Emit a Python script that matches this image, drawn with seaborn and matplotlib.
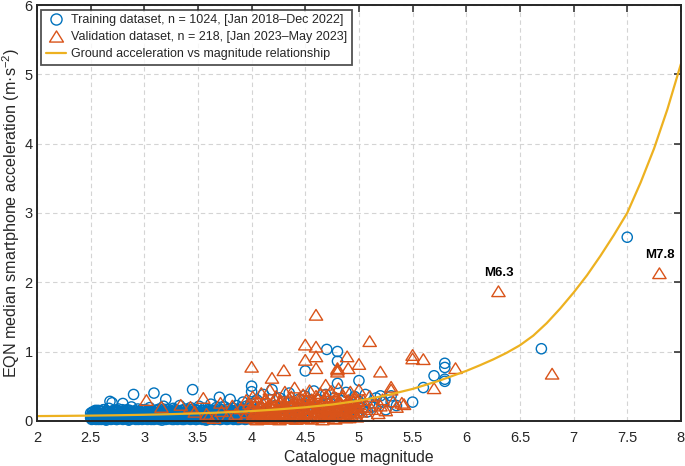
"""
EQN smartphone acceleration vs catalogue magnitude.
Saves out.png (685x466).
"""

import matplotlib
matplotlib.use("Agg")
import matplotlib.pyplot as plt
from matplotlib.lines import Line2D
from matplotlib.path import Path
import seaborn as sns

BLUE   = "#0072BD"
ORANGE = "#D95319"
YELLOW = "#EDB120"
INK    = "#262626"

# ---------------------------------------------------------------------------
# Data
# ---------------------------------------------------------------------------
train_mag = [
    2.50, 2.50, 2.51, 2.51, 2.52, 2.52, 2.53, 2.53, 2.54, 2.54,
    2.55, 2.55, 2.56, 2.56, 2.57, 2.57, 2.58, 2.58, 2.59, 2.59,
    2.60, 2.60, 2.61, 2.61, 2.62, 2.62, 2.63, 2.63, 2.64, 2.64,
    2.65, 2.65, 2.66, 2.66, 2.67, 2.67, 2.68, 2.68, 2.69, 2.69,
    2.70, 2.70, 2.71, 2.71, 2.72, 2.72, 2.73, 2.73, 2.74, 2.74,
    2.75, 2.75, 2.76, 2.76, 2.77, 2.77, 2.78, 2.78, 2.79, 2.79,
    2.80, 2.80, 2.81, 2.81, 2.82, 2.82, 2.83, 2.83, 2.84, 2.84,
    2.85, 2.85, 2.86, 2.86, 2.87, 2.87, 2.88, 2.88, 2.89, 2.89,
    2.90, 2.90, 2.91, 2.91, 2.92, 2.92, 2.93, 2.93, 2.94, 2.94,
    2.95, 2.95, 2.96, 2.96, 2.97, 2.97, 2.98, 2.98, 2.99, 2.99,
    3.00, 3.00, 3.01, 3.01, 3.02, 3.02, 3.03, 3.03, 3.04, 3.04,
    3.05, 3.05, 3.06, 3.06, 3.07, 3.07, 3.08, 3.08, 3.09, 3.09,
    3.10, 3.10, 3.11, 3.11, 3.12, 3.12, 3.13, 3.13, 3.14, 3.14,
    3.15, 3.15, 3.16, 3.16, 3.17, 3.17, 3.18, 3.18, 3.19, 3.19,
    3.20, 3.20, 3.21, 3.21, 3.22, 3.22, 3.23, 3.23, 3.24, 3.24,
    3.25, 3.25, 3.26, 3.26, 3.27, 3.27, 3.28, 3.28, 3.29, 3.29,
    3.30, 3.30, 3.31, 3.31, 3.32, 3.32, 3.33, 3.33, 3.34, 3.34,
    3.35, 3.35, 3.36, 3.36, 3.37, 3.37, 3.38, 3.38, 3.39, 3.39,
    3.40, 3.40, 3.41, 3.41, 3.42, 3.42, 3.43, 3.43, 3.44, 3.44,
    3.45, 3.45, 3.46, 3.46, 3.47, 3.47, 3.48, 3.48, 3.49, 3.49,
    3.50, 3.50, 3.51, 3.51, 3.52, 3.52, 3.53, 3.53, 3.54, 3.54,
    3.55, 3.55, 3.56, 3.56, 3.57, 3.57, 3.58, 3.58, 3.59, 3.59,
    3.60, 3.60, 3.61, 3.61, 3.62, 3.62, 3.63, 3.63, 3.64, 3.64,
    3.65, 3.65, 3.66, 3.66, 3.67, 3.67, 3.68, 3.68, 3.69, 3.69,
    3.70, 3.70, 3.71, 3.71, 3.72, 3.72, 3.73, 3.73, 3.74, 3.74,
    3.75, 3.75, 3.76, 3.76, 3.77, 3.77, 3.78, 3.78, 3.79, 3.79,
    3.80, 3.80, 3.81, 3.81, 3.82, 3.82, 3.83, 3.83, 3.84, 3.84,
    3.85, 3.85, 3.86, 3.86, 3.87, 3.87, 3.88, 3.88, 3.89, 3.89,
    3.90, 3.90, 3.91, 3.91, 3.92, 3.92, 3.93, 3.93, 3.94, 3.94,
    3.95, 3.95, 3.96, 3.96, 3.97, 3.97, 3.98, 3.98, 3.99, 3.99,
    # larger events
    4.00, 4.00, 4.02, 4.04, 4.05, 4.07, 4.08, 4.10, 4.11, 4.13,
    4.14, 4.16, 4.18, 4.19, 4.21, 4.22, 4.24, 4.26, 4.27, 4.29,
    4.30, 4.32, 4.34, 4.35, 4.37, 4.39, 4.40, 4.42, 4.44, 4.45,
    4.47, 4.49, 4.50, 4.50, 4.52, 4.54, 4.56, 4.58, 4.60, 4.61,
    4.63, 4.65, 4.67, 4.69, 4.70, 4.71, 4.73, 4.75, 4.77, 4.78,
    4.80, 4.80, 4.80, 4.82, 4.84, 4.86, 4.88, 4.90, 4.92, 4.94,
    4.96, 4.98, 5.00, 5.00, 5.03, 5.06, 5.08, 5.10, 5.13, 5.16,
    5.20, 5.22, 5.25, 5.30, 5.30, 5.35, 5.50, 5.60, 5.70, 5.80,
    5.80, 5.80, 5.80, 6.70, 7.50,
]
train_acc = [
    0.04, 0.11, 0.02, 0.08, 0.06, 0.13, 0.03, 0.10, 0.07, 0.14,
    0.02, 0.09, 0.05, 0.12, 0.03, 0.15, 0.08, 0.11, 0.04, 0.07,
    0.02, 0.13, 0.06, 0.10, 0.03, 0.16, 0.09, 0.05, 0.02, 0.12,
    0.07, 0.14, 0.04, 0.10, 0.03, 0.18, 0.06, 0.28, 0.02, 0.11,
    0.08, 0.26, 0.05, 0.13, 0.03, 0.09, 0.07, 0.15, 0.02, 0.12,
    0.06, 0.10, 0.04, 0.17, 0.03, 0.08, 0.09, 0.13, 0.05, 0.11,
    0.02, 0.25, 0.07, 0.14, 0.04, 0.10, 0.03, 0.12, 0.08, 0.16,
    0.05, 0.09, 0.02, 0.13, 0.06, 0.11, 0.04, 0.20, 0.03, 0.08,
    0.07, 0.38, 0.05, 0.14, 0.02, 0.10, 0.06, 0.12, 0.04, 0.17,
    0.03, 0.09, 0.08, 0.13, 0.05, 0.11, 0.02, 0.15, 0.07, 0.10,
    0.04, 0.12, 0.03, 0.16, 0.06, 0.09, 0.02, 0.13, 0.08, 0.11,
    0.05, 0.19, 0.03, 0.10, 0.07, 0.14, 0.04, 0.12, 0.02, 0.40,
    0.06, 0.09, 0.03, 0.15, 0.08, 0.11, 0.05, 0.13, 0.02, 0.17,
    0.06, 0.10, 0.04, 0.12, 0.03, 0.08, 0.07, 0.21, 0.05, 0.14,
    0.02, 0.31, 0.06, 0.11, 0.04, 0.09, 0.03, 0.16, 0.08, 0.12,
    0.05, 0.10, 0.02, 0.14, 0.07, 0.18, 0.04, 0.11, 0.03, 0.09,
    0.06, 0.13, 0.02, 0.15, 0.05, 0.10, 0.08, 0.22, 0.04, 0.12,
    0.03, 0.09, 0.06, 0.14, 0.02, 0.11, 0.07, 0.17, 0.05, 0.13,
    0.03, 0.10, 0.08, 0.15, 0.04, 0.12, 0.02, 0.19, 0.06, 0.11,
    0.03, 0.45, 0.05, 0.14, 0.07, 0.10, 0.02, 0.16, 0.04, 0.12,
    0.06, 0.09, 0.03, 0.21, 0.08, 0.13, 0.05, 0.11, 0.02, 0.15,
    0.04, 0.10, 0.07, 0.18, 0.03, 0.12, 0.06, 0.14, 0.02, 0.09,
    0.05, 0.16, 0.08, 0.11, 0.04, 0.24, 0.03, 0.13, 0.06, 0.10,
    0.02, 0.15, 0.07, 0.12, 0.05, 0.19, 0.03, 0.11, 0.04, 0.14,
    0.06, 0.34, 0.02, 0.10, 0.08, 0.16, 0.05, 0.13, 0.03, 0.11,
    0.07, 0.20, 0.04, 0.14, 0.02, 0.09, 0.06, 0.17, 0.03, 0.12,
    0.05, 0.31, 0.08, 0.15, 0.04, 0.10, 0.02, 0.18, 0.06, 0.13,
    0.03, 0.11, 0.07, 0.22, 0.05, 0.16, 0.02, 0.12, 0.04, 0.14,
    0.06, 0.19, 0.03, 0.10, 0.08, 0.27, 0.05, 0.15, 0.02, 0.12,
    0.07, 0.21, 0.04, 0.13, 0.03, 0.17, 0.06, 0.11, 0.05, 0.25,
    # larger events
    0.50, 0.42, 0.08, 0.15, 0.30, 0.05, 0.20, 0.12, 0.38, 0.06,
    0.25, 0.10, 0.17, 0.45, 0.04, 0.22, 0.13, 0.33, 0.08, 0.18,
    0.28, 0.06, 0.15, 0.40, 0.11, 0.24, 0.05, 0.19, 0.31, 0.09,
    0.14, 0.36, 0.72, 0.21, 0.07, 0.27, 0.12, 0.43, 0.18, 0.05,
    0.30, 0.10, 0.22, 0.38, 1.03, 0.14, 0.26, 0.08, 0.33, 0.17,
    1.00, 0.86, 0.54, 0.12, 0.29, 0.20, 0.41, 0.09, 0.24, 0.15,
    0.35, 0.11, 0.58, 0.28, 0.18, 0.38, 0.13, 0.25, 0.20, 0.33,
    0.36, 0.27, 0.16, 0.36, 0.27, 0.22, 0.27, 0.48, 0.65, 0.83,
    0.77, 0.60, 0.57, 1.04, 2.65,
]

# extra small events filling the dense band between M2.5 and M4
train_mag_b = [
    2.505, 2.515, 2.525, 2.535, 2.545, 2.555, 2.565, 2.575, 2.585, 2.595,
    2.605, 2.615, 2.625, 2.635, 2.645, 2.655, 2.665, 2.675, 2.685, 2.695,
    2.705, 2.715, 2.725, 2.735, 2.745, 2.755, 2.765, 2.775, 2.785, 2.795,
    2.805, 2.815, 2.825, 2.835, 2.845, 2.855, 2.865, 2.875, 2.885, 2.895,
    2.905, 2.915, 2.925, 2.935, 2.945, 2.955, 2.965, 2.975, 2.985, 2.995,
    3.005, 3.015, 3.025, 3.035, 3.045, 3.055, 3.065, 3.075, 3.085, 3.095,
    3.105, 3.115, 3.125, 3.135, 3.145, 3.155, 3.165, 3.175, 3.185, 3.195,
    3.205, 3.215, 3.225, 3.235, 3.245, 3.255, 3.265, 3.275, 3.285, 3.295,
    3.305, 3.315, 3.325, 3.335, 3.345, 3.355, 3.365, 3.375, 3.385, 3.395,
    3.405, 3.415, 3.425, 3.435, 3.445, 3.455, 3.465, 3.475, 3.485, 3.495,
    3.505, 3.515, 3.525, 3.535, 3.545, 3.555, 3.565, 3.575, 3.585, 3.595,
    3.605, 3.615, 3.625, 3.635, 3.645, 3.655, 3.665, 3.675, 3.685, 3.695,
    3.705, 3.715, 3.725, 3.735, 3.745, 3.755, 3.765, 3.775, 3.785, 3.795,
    3.805, 3.815, 3.825, 3.835, 3.845, 3.855, 3.865, 3.875, 3.885, 3.895,
    3.905, 3.915, 3.925, 3.935, 3.945, 3.955, 3.965, 3.975, 3.985, 3.995,
]
train_acc_b = [
    0.06, 0.12, 0.03, 0.09, 0.15, 0.05, 0.11, 0.02, 0.08, 0.14,
    0.04, 0.10, 0.16, 0.07, 0.01, 0.13, 0.09, 0.05, 0.12, 0.03,
    0.08, 0.15, 0.05, 0.11, 0.02, 0.14, 0.07, 0.10, 0.04, 0.16,
    0.09, 0.03, 0.13, 0.06, 0.11, 0.01, 0.15, 0.08, 0.12, 0.05,
    0.10, 0.04, 0.14, 0.07, 0.02, 0.12, 0.09, 0.16, 0.05, 0.11,
    0.03, 0.13, 0.08, 0.15, 0.06, 0.10, 0.02, 0.14, 0.07, 0.12,
    0.05, 0.11, 0.16, 0.04, 0.09, 0.13, 0.01, 0.08, 0.15, 0.06,
    0.12, 0.03, 0.10, 0.07, 0.14, 0.05, 0.11, 0.02, 0.16, 0.08,
    0.04, 0.13, 0.09, 0.06, 0.15, 0.02, 0.10, 0.12, 0.05, 0.14,
    0.07, 0.11, 0.03, 0.16, 0.08, 0.13, 0.05, 0.10, 0.02, 0.15,
    0.09, 0.06, 0.12, 0.04, 0.14, 0.07, 0.11, 0.01, 0.13, 0.08,
    0.10, 0.03, 0.15, 0.06, 0.12, 0.09, 0.04, 0.16, 0.07, 0.11,
    0.02, 0.13, 0.08, 0.14, 0.05, 0.10, 0.16, 0.03, 0.12, 0.09,
    0.06, 0.15, 0.11, 0.04, 0.13, 0.08, 0.02, 0.14, 0.10, 0.07,
    0.12, 0.05, 0.16, 0.09, 0.03, 0.13, 0.07, 0.11, 0.15, 0.04,
]

valid_mag = [
    3.02, 3.16, 3.34, 3.43, 3.47, 3.55, 3.58, 3.60, 3.65, 3.71,
    3.72, 3.78, 3.82, 3.85, 3.90, 3.93, 3.95,
    3.96, 3.98, 4.00, 4.00, 4.00, 4.01, 4.02, 4.03, 4.04, 4.05,
    4.06, 4.07, 4.08, 4.09, 4.10, 4.10, 4.11, 4.12, 4.13, 4.14,
    4.15, 4.16, 4.17, 4.18, 4.19, 4.19, 4.20, 4.21, 4.22, 4.23,
    4.24, 4.25, 4.26, 4.27, 4.28, 4.29, 4.30, 4.30, 4.31, 4.32,
    4.33, 4.34, 4.35, 4.36, 4.37, 4.38, 4.39, 4.40, 4.40, 4.41,
    4.42, 4.43, 4.44, 4.45, 4.46, 4.47, 4.48, 4.49, 4.50, 4.50,
    4.50, 4.51, 4.52, 4.53, 4.54, 4.55, 4.56, 4.57, 4.58, 4.59,
    4.60, 4.60, 4.60, 4.60, 4.60, 4.61, 4.62, 4.63, 4.64, 4.65,
    4.66, 4.67, 4.68, 4.69, 4.70, 4.70, 4.71, 4.72, 4.73, 4.74,
    4.75, 4.76, 4.77, 4.78, 4.79, 4.80, 4.80, 4.80, 4.80, 4.81,
    4.82, 4.83, 4.84, 4.85, 4.86, 4.87, 4.88, 4.89, 4.90, 4.90,
    4.91, 4.92, 4.93, 4.94, 4.95, 4.96, 4.97, 4.98, 4.99, 5.00,
    5.00, 5.00, 5.02, 5.04, 5.06, 5.08, 5.10, 5.10, 5.12, 5.15,
    5.18, 5.20, 5.20, 5.22, 5.25, 5.30, 5.30, 5.32, 5.35, 5.40,
    5.42, 5.50, 5.50, 5.60, 5.70, 5.90, 6.30, 6.80, 7.80,
    4.01, 4.03, 4.05, 4.08, 4.11, 4.13, 4.16, 4.18, 4.21, 4.23,
    4.26, 4.28, 4.31, 4.33, 4.36, 4.38, 4.41, 4.43, 4.46, 4.48,
    4.51, 4.53, 4.56, 4.58, 4.61, 4.63, 4.66, 4.68, 4.71, 4.73,
    4.76, 4.78, 4.81, 4.83, 4.86, 4.88, 4.91, 4.93, 4.96, 4.98,
    4.02, 4.04, 4.06, 4.09, 4.12, 4.15, 4.17, 4.20, 4.22, 4.25,
    4.27, 4.30, 4.32, 4.35, 4.37, 4.39, 4.42, 4.44, 4.47, 4.49,
    4.52, 4.55, 4.57, 4.59, 4.62, 4.64, 4.67, 4.69, 4.72, 4.74,
    4.77, 4.79, 4.82, 4.84, 4.87, 4.89, 4.92, 4.94, 4.97, 4.99,
]
valid_acc = [
    0.30, 0.20, 0.23, 0.20, 0.13, 0.33, 0.10, 0.06, 0.04, 0.26,
    0.14, 0.07, 0.22, 0.10, 0.18, 0.05, 0.30,
    0.12, 0.25, 0.78, 0.05, 0.18, 0.35, 0.10, 0.22, 0.03, 0.15,
    0.28, 0.08, 0.19, 0.40, 0.12, 0.04, 0.25, 0.16, 0.32, 0.07,
    0.21, 0.11, 0.45, 0.03, 0.62, 0.18, 0.27, 0.09, 0.14, 0.36,
    0.05, 0.22, 0.12, 0.30, 0.17, 0.08, 0.73, 0.24, 0.42, 0.04,
    0.15, 0.28, 0.10, 0.20, 0.35, 0.06, 0.17, 0.26, 0.48, 0.11,
    0.03, 0.21, 0.32, 0.14, 0.07, 0.25, 0.38, 0.18, 1.10, 0.88,
    0.10, 0.29, 0.04, 0.22, 0.44, 0.13, 0.31, 0.08, 0.19, 0.27,
    1.53, 1.07, 0.93, 0.76, 0.36, 0.12, 0.05, 0.23, 0.40, 0.16,
    0.09, 0.30, 0.20, 0.52, 0.13, 0.35, 0.06, 0.25, 0.17, 0.43,
    0.10, 0.28, 0.04, 0.21, 0.33, 0.74, 0.71, 0.76, 0.14, 0.47,
    0.08, 0.26, 0.18, 0.37, 0.11, 0.23, 0.05, 0.93, 0.76, 0.30,
    0.15, 0.42, 0.09, 0.20, 0.27, 0.12, 0.34, 0.06, 0.19, 0.82,
    0.24, 0.45, 0.13, 0.30, 0.20, 0.08, 1.15, 0.36, 0.17, 0.26,
    0.11, 0.71, 0.22, 0.31, 0.15, 0.49, 0.45, 0.28, 0.20, 0.26,
    0.24, 0.95, 0.90, 0.89, 0.47, 0.76, 1.87, 0.68, 2.13,
    0.07, 0.14, 0.02, 0.11, 0.06, 0.18, 0.03, 0.13, 0.20, 0.07,
    0.02, 0.11, 0.16, 0.06, 0.13, 0.22, 0.03, 0.09, 0.17, 0.05,
    0.12, 0.19, 0.03, 0.08, 0.20, 0.14, 0.02, 0.10, 0.18, 0.07,
    0.13, 0.03, 0.20, 0.10, 0.16, 0.14, 0.05, 0.22, 0.08, 0.15,
    0.26, 0.12, 0.06, 0.23, 0.29, 0.09, 0.24, 0.05, 0.31, 0.16,
    0.26, 0.10, 0.22, 0.33, 0.04, 0.28, 0.15, 0.24, 0.31, 0.11,
    0.34, 0.21, 0.27, 0.12, 0.32, 0.07, 0.26, 0.35, 0.11, 0.22,
    0.30, 0.16, 0.27, 0.35, 0.06, 0.24, 0.12, 0.31, 0.20, 0.28,
]

# ground acceleration vs magnitude relationship, sampled along the drawn curve
curve_mag = [2.00, 2.25, 2.50, 2.75, 3.00, 3.25, 3.50, 3.75, 4.00, 4.25,
             4.50, 4.75, 5.00, 5.25, 5.50, 5.75, 6.00, 6.125, 6.25, 6.375,
             6.50, 6.625, 6.75, 6.875, 7.00, 7.125, 7.25, 7.375, 7.50,
             7.625, 7.75, 7.875, 8.00]
curve_acc = [0.068, 0.071, 0.075, 0.080, 0.087, 0.096, 0.107, 0.122, 0.140,
             0.165, 0.195, 0.235, 0.290, 0.365, 0.460, 0.580, 0.720, 0.800,
             0.885, 0.980, 1.090, 1.230, 1.410, 1.620, 1.850, 2.100, 2.380,
             2.680, 3.000, 3.440, 3.930, 4.500, 5.150]

labelled_events = ["M6.3", "M7.8"]
labelled_mag    = [6.30, 7.80]
labelled_acc    = [1.87, 2.13]

xticks      = [2, 2.5, 3, 3.5, 4, 4.5, 5, 5.5, 6, 6.5, 7, 7.5, 8]
xtick_text  = ["2", "2.5", "3", "3.5", "4", "4.5", "5", "5.5", "6", "6.5", "7", "7.5", "8"]
yticks      = [0, 1, 2, 3, 4, 5, 6]

legend_text = [
    "Training dataset, n = 1024, [Jan 2018\u2013Dec 2022]",
    "Validation dataset, n = 218, [Jan 2023\u2013May 2023]",
    "Ground acceleration vs magnitude relationship",
]

# ---------------------------------------------------------------------------
# Style
# ---------------------------------------------------------------------------
sns.set_theme(style="white")
plt.rcParams.update({
    "font.family":      ["Liberation Sans", "DejaVu Sans"],
    "mathtext.fontset": "custom",
    "mathtext.rm":      "Liberation Sans",
    "mathtext.it":      "Liberation Sans:italic",
    "text.color":       INK,
    "axes.labelcolor":  INK,
})

# flat MATLAB-like triangle
TRI = Path([(-1.0, -0.8), (1.0, -0.8), (0.0, 0.8), (-1.0, -0.8)],
           [Path.MOVETO, Path.LINETO, Path.LINETO, Path.CLOSEPOLY])

fig, ax = plt.subplots(figsize=(6.85, 4.66), dpi=100)
fig.subplots_adjust(left=0.054, right=0.994, bottom=0.097, top=0.989)

ax.grid(True, linestyle=(0, (4, 3)), color="#d4d4d4", linewidth=0.8, zorder=0)
ax.set_axisbelow(True)

sns.scatterplot(x=train_mag + train_mag_b, y=train_acc + train_acc_b,
                marker="o", s=54, color=BLUE, facecolor="none", edgecolor=BLUE,
                linewidth=1.0, ax=ax, zorder=2, clip_on=False)
sns.scatterplot(x=valid_mag, y=valid_acc, marker=TRI, s=92, color=ORANGE,
                facecolor="none", edgecolor=ORANGE, linewidth=1.0, ax=ax,
                zorder=3, clip_on=False)
sns.lineplot(x=curve_mag, y=curve_acc, color=YELLOW, linewidth=1.6,
             sort=False, estimator=None, ax=ax, zorder=4)

for txt, m, a in zip(labelled_events, labelled_mag, labelled_acc):
    ax.annotate(txt, (m, a), xytext=(0, 9), textcoords="offset points",
                ha="center", va="bottom", fontsize=9.5, fontweight="bold",
                color="black")

ax.set_xlim(2, 8)
ax.set_ylim(0, 6)
ax.set_xticks(xticks)
ax.set_xticklabels(xtick_text)
ax.set_yticks(yticks)
ax.tick_params(direction="in", top=True, right=True, length=5, width=1.1,
               labelsize=10.5, colors=INK)
ax.tick_params(axis="x", pad=7)
ax.tick_params(axis="y", pad=3)
for sp in ax.spines.values():
    sp.set_linewidth(1.4)
    sp.set_color(INK)
    sp.set_zorder(5)

ax.set_xlabel("Catalogue magnitude", fontsize=11.3, labelpad=4)
ax.set_ylabel("EQN median smartphone acceleration (m\u00b7s$^{-2}$)",
              fontsize=11.6)
ax.yaxis.set_label_coords(-0.023, 0.5)

handles = [
    Line2D([], [], ls="none", marker="o", ms=8, mfc="none", mec=BLUE, mew=1.0),
    Line2D([], [], ls="none", marker=TRI, ms=10, mfc="none", mec=ORANGE, mew=1.0),
    Line2D([], [], color=YELLOW, lw=1.6),
]
leg = ax.legend(handles, legend_text, loc="upper left", fontsize=9.0,
                frameon=True, fancybox=False, edgecolor=INK,
                handlelength=1.6, handletextpad=0.45, borderpad=0.35,
                labelspacing=0.42, borderaxespad=0.35)
leg.get_frame().set_linewidth(1.3)
leg.set_zorder(6)

fig.savefig("out.png", dpi=100)
